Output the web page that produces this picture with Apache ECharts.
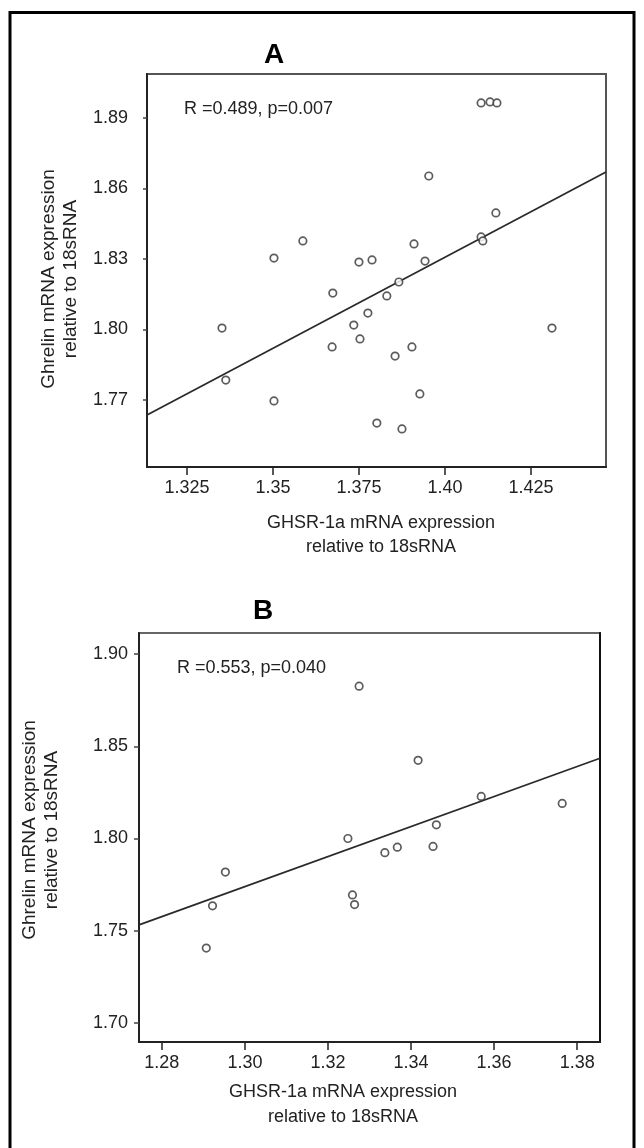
<!DOCTYPE html>
<html>
<head>
<meta charset="utf-8">
<script src="https://cdn.jsdelivr.net/npm/echarts@6/dist/echarts.min.js"></script>
<style>
  html, body { margin: 0; padding: 0; background: #fff; }
  #chart { width: 644px; height: 1148px; }
</style>
</head>
<body>
<div id="chart"></div>
<script>
// panel A: GHSR-1a vs ghrelin
const pointsA = [
  [1.3352, 1.8006], [1.3363, 1.7785], [1.3503, 1.8304], [1.3503, 1.7696],
  [1.3587, 1.8377], [1.3674, 1.8155], [1.3672, 1.7926], [1.3735, 1.8019],
  [1.3753, 1.7960], [1.3750, 1.8287], [1.3788, 1.8296], [1.3776, 1.8070],
  [1.3831, 1.8143], [1.3866, 1.8202], [1.3910, 1.8364], [1.3904, 1.7926],
  [1.3855, 1.7887], [1.3927, 1.7726], [1.3802, 1.7602], [1.3875, 1.7577],
  [1.3953, 1.8653], [1.4105, 1.8964], [1.4131, 1.8968], [1.4151, 1.8964],
  [1.4148, 1.8496], [1.4105, 1.8394], [1.4110, 1.8377], [1.4311, 1.8006],
  [1.3942, 1.8291]
]
const fitA = [[1.3134, 1.7636], [1.4468, 1.8670]]
const xTickValsA = [1.325, 1.35, 1.375, 1.40, 1.425]
const xTickLabelsA = ['1.325', '1.35', '1.375', '1.40', '1.425']
const yTickValsA = [1.77, 1.80, 1.83, 1.86, 1.89]
const yTickLabelsA = ['1.77', '1.80', '1.83', '1.86', '1.89']

// panel B
const pointsB = [
  [1.2907, 1.7406], [1.2922, 1.7635], [1.2953, 1.7818], [1.3248, 1.8000],
  [1.3259, 1.7694], [1.3264, 1.7642], [1.3337, 1.7923], [1.3367, 1.7953],
  [1.3453, 1.7957], [1.3461, 1.8074], [1.3275, 1.8826], [1.3417, 1.8424],
  [1.3569, 1.8228], [1.3764, 1.8190]
]
const fitB = [[1.2745, 1.7532], [1.3855, 1.8435]]
const xTickValsB = [1.28, 1.30, 1.32, 1.34, 1.36, 1.38]
const xTickLabelsB = ['1.28', '1.30', '1.32', '1.34', '1.36', '1.38']
const yTickValsB = [1.70, 1.75, 1.80, 1.85, 1.90]
const yTickLabelsB = ['1.70', '1.75', '1.80', '1.85', '1.90']

const font = "'Liberation Sans', Arial, sans-serif"
const ink = '#222'

// label text for a tick value
function pick(vals, labels) {
  return function (v) {
    let best = 0
    vals.forEach((t, i) => { if (Math.abs(t - v) < Math.abs(vals[best] - v)) best = i })
    return labels[best]
  }
}

function xAxisOf(grid, min, max, vals, labels) {
  return {
    type: 'value', gridIndex: grid, min: min, max: max,
    axisLine: { lineStyle: { color: ink, width: 2 } },
    axisTick: { customValues: vals, length: 8, lineStyle: { color: ink, width: 1.5 } },
    axisLabel: { customValues: vals, formatter: pick(vals, labels), margin: 12,
      color: ink, fontSize: 18, fontFamily: font },
    splitLine: { show: false }
  }
}

function yAxisOf(grid, min, max, vals, labels, tickLen, margin) {
  return {
    type: 'value', gridIndex: grid, min: min, max: max,
    axisLine: { show: true, lineStyle: { color: ink, width: 2 } },
    axisTick: { show: true, customValues: vals, length: tickLen, lineStyle: { color: '#444', width: 1.5 } },
    axisLabel: { customValues: vals, formatter: pick(vals, labels), margin: margin,
      color: ink, fontSize: 18, fontFamily: font },
    splitLine: { show: false }
  }
}

const dots = {
  type: 'scatter', symbol: 'circle', symbolSize: 7.5,
  itemStyle: { color: '#fff', borderColor: '#333', borderWidth: 1.7 },
  z: 3
}
const fit = {
  type: 'line', showSymbol: false, silent: true,
  lineStyle: { color: '#2a2a2a', width: 1.8 }, z: 2
}

function txt(x, y, s, opt) {
  return {
    type: 'text', x: x, y: y,
    style: Object.assign({ text: s, fill: ink, font: '18px ' + font, align: 'center', verticalAlign: 'middle' }, opt || {})
  }
}

function vtxt(x, y, s) {
  const g = txt(x, y, s, { font: '19px ' + font })
  g.rotation = Math.PI / 2
  return g
}

const chart = echarts.init(document.getElementById('chart'))
chart.setOption({
  backgroundColor: '#fff',
  animation: false,
  grid: [
    { left: 147, top: 74, width: 459, height: 393, show: true, borderColor: '#555', borderWidth: 2 },
    { left: 139, top: 633, width: 461, height: 409, show: true, borderColor: '#666', borderWidth: 2 }
  ],
  xAxis: [
    xAxisOf(0, 1.3134, 1.4468, xTickValsA, xTickLabelsA),
    xAxisOf(1, 1.2745, 1.3855, xTickValsB, xTickLabelsB)
  ],
  yAxis: [
    yAxisOf(0, 1.7415, 1.9087, yTickValsA, yTickLabelsA, 4, 19),
    yAxisOf(1, 1.6897, 1.9114, yTickValsB, yTickLabelsB, 5, 11),
    // dark right edge of panel B
    { type: 'value', gridIndex: 1, position: 'right', min: 1.6897, max: 1.9114,
      axisLine: { show: true, lineStyle: { color: '#111', width: 2 } },
      axisTick: { show: false }, axisLabel: { show: false }, splitLine: { show: false } }
  ],
  series: [
    Object.assign({}, fit, { xAxisIndex: 0, yAxisIndex: 0, data: fitA }),
    Object.assign({}, dots, { xAxisIndex: 0, yAxisIndex: 0, data: pointsA }),
    Object.assign({}, fit, { xAxisIndex: 1, yAxisIndex: 1, data: fitB }),
    Object.assign({}, dots, { xAxisIndex: 1, yAxisIndex: 1, data: pointsB })
  ],
  graphic: [
    { type: 'rect', shape: { x: 10, y: 12.5, width: 624, height: 1150 },
      style: { fill: 'none', stroke: '#000', lineWidth: 3 } },
    txt(274, 55, 'A', { font: 'bold 28px ' + font, fill: '#000' }),
    txt(263, 611, 'B', { font: 'bold 28px ' + font, fill: '#000' }),
    txt(184, 109, 'R =0.489, p=0.007', { align: 'left' }),
    txt(177, 668, 'R =0.553, p=0.040', { align: 'left' }),
    txt(381, 523, 'GHSR-1a mRNA expression'),
    txt(381, 547, 'relative to 18sRNA'),
    txt(343, 1092, 'GHSR-1a mRNA expression'),
    txt(343, 1117, 'relative to 18sRNA'),
    vtxt(49, 279, 'Ghrelin mRNA expression'),
    vtxt(71, 279, 'relative to 18sRNA'),
    vtxt(30, 830, 'Ghrelin mRNA expression'),
    vtxt(52, 830, 'relative to 18sRNA')
  ]
})
</script>
</body>
</html>
